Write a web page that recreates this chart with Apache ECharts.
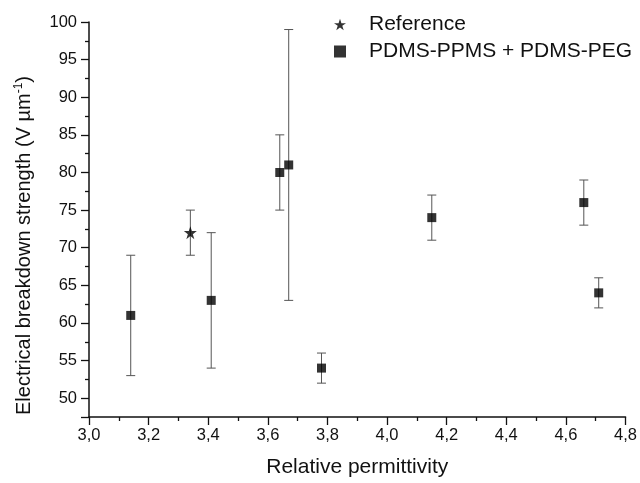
<!DOCTYPE html>
<html>
<head>
<meta charset="utf-8">
<script src="https://cdn.jsdelivr.net/npm/echarts@6/dist/echarts.min.js"></script>
<style>
html,body{margin:0;padding:0;background:#fff;}
#chart{width:640px;height:483px;}
</style>
</head>
<body>
<div id="chart"></div>
<script>
// Reference sample
const refX = [3.34];
const refY = [72];
const refLow = [69];
const refHigh = [75];
// PDMS-PPMS + PDMS-PEG samples
const blendX = [3.14, 3.41, 3.64, 3.67, 3.78, 4.15, 4.66, 4.71];
const blendY = [61, 63, 80, 81, 54, 74, 76, 64];
const blendLow = [53, 54, 75, 63, 52, 71, 73, 62];
const blendHigh = [69, 72, 85, 99, 56, 77, 79, 66];
const seriesNames = ['Reference', 'PDMS-PPMS + PDMS-PEG'];

const FONT = 'Liberation Sans, Arial, sans-serif';
const TXT = '#111';
const starPath = 'path://M50,0 L61.8,36.2 L100,36.2 L69.1,58.8 L80.9,95.1 L50,72.7 L19.1,95.1 L30.9,58.8 L0,36.2 L38.2,36.2 Z';

const refPts = refX.map((x, i) => [x, refY[i]]);
const blendPts = blendX.map((x, i) => [x, blendY[i]]);
const errData = refX.map((x, i) => [x, refLow[i], refHigh[i]])
  .concat(blendX.map((x, i) => [x, blendLow[i], blendHigh[i]]));

function renderErr(params, api) {
  const x = api.value(0);
  const lo = api.coord([x, api.value(1)]);
  const hi = api.coord([x, api.value(2)]);
  const w = 4.5;
  const style = { stroke: '#555', lineWidth: 1, fill: null };
  return {
    type: 'group',
    children: [
      { type: 'line', shape: { x1: lo[0], y1: lo[1], x2: hi[0], y2: hi[1] }, style: style },
      { type: 'line', shape: { x1: lo[0] - w, y1: lo[1], x2: lo[0] + w, y2: lo[1] }, style: style },
      { type: 'line', shape: { x1: hi[0] - w, y1: hi[1], x2: hi[0] + w, y2: hi[1] }, style: style }
    ]
  };
}

const chart = echarts.init(document.getElementById('chart'));
chart.setOption({
  animation: false,
  backgroundColor: '#fff',
  textStyle: { fontFamily: FONT, color: TXT },
  grid: { left: 89, right: 13, top: 22, bottom: 65, containLabel: false },
  legend: {
    orient: 'vertical',
    left: 329,
    top: 9,
    itemWidth: 12,
    itemHeight: 12,
    itemGap: 6,
    selectedMode: false,
    textStyle: { fontFamily: FONT, fontSize: 21, color: TXT, lineHeight: 21, padding: [0, 0, 0, 18] },
    data: [
      { name: seriesNames[0], icon: starPath },
      { name: seriesNames[1], icon: 'rect' }
    ]
  },
  xAxis: {
    type: 'value',
    min: 3.0,
    max: 4.8,
    interval: 0.2,
    name: 'Relative permittivity',
    nameLocation: 'middle',
    nameGap: 40,
    nameTextStyle: { fontFamily: FONT, fontSize: 21, color: TXT },
    axisLine: { show: true, onZero: false, lineStyle: { color: '#111', width: 1.5 } },
    axisTick: { show: true, length: 8, lineStyle: { color: '#111', width: 1.3 } },
    minorTick: { show: true, splitNumber: 2, length: 4, lineStyle: { color: '#111', width: 1.3 } },
    splitLine: { show: false },
    axisLabel: {
      fontFamily: FONT, fontSize: 16.5, color: TXT, margin: 10,
      formatter: v => v.toFixed(1).replace('.', ',')
    }
  },
  yAxis: {
    type: 'value',
    min: 47.5,
    max: 100,
    minInterval: 5,
    maxInterval: 5,
    splitNumber: 10,
    name: '{a|Electrical breakdown strength (V µm}{b|-1}{a|)}',
    nameLocation: 'middle',
    nameGap: 53,
    nameTextStyle: {
      fontFamily: FONT, fontSize: 20, color: TXT,
      padding: [0, 52, 0, 0],
      rich: {
        a: { fontFamily: FONT, fontSize: 20, color: TXT, lineHeight: 23 },
        b: { fontFamily: FONT, fontSize: 12, color: TXT, lineHeight: 23, verticalAlign: 'top' }
      }
    },
    axisLine: { show: true, onZero: false, lineStyle: { color: '#111', width: 1.5 } },
    axisTick: { show: true, length: 8, lineStyle: { color: '#111', width: 1.3 } },
    minorTick: { show: true, splitNumber: 2, length: 4, lineStyle: { color: '#111', width: 1.3 } },
    splitLine: { show: false },
    axisLabel: {
      fontFamily: FONT, fontSize: 16.5, color: TXT, margin: 12,
      formatter: v => (Math.abs(v % 5) < 1e-9 ? String(v) : '')
    }
  },
  series: [
    {
      name: 'errors',
      type: 'custom',
      renderItem: renderErr,
      data: errData,
      encode: { x: 0, y: [1, 2] },
      z: 1,
      silent: true
    },
    {
      name: seriesNames[0],
      type: 'scatter',
      data: refPts,
      symbol: starPath,
      symbolSize: 13,
      itemStyle: { color: '#000' },
      z: 3
    },
    {
      name: seriesNames[1],
      type: 'scatter',
      data: blendPts,
      symbol: 'rect',
      symbolSize: 9,
      itemStyle: { color: '#000' },
      z: 3
    }
  ]
});
</script>
</body>
</html>
